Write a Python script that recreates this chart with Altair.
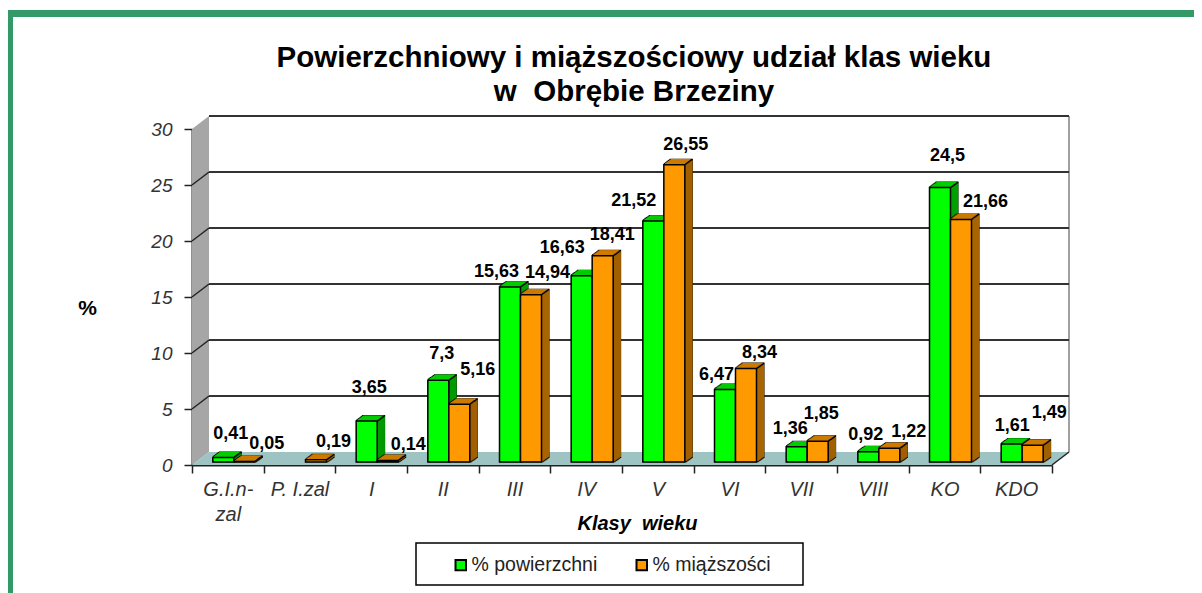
import altair as alt
import pandas as pd

categories = ["G.I.n-|zal", "P. I.zal", "I", "II", "III", "IV", "V", "VI", "VII", "VIII", "KO", "KDO"]
powierzchni = [0.41, None, 3.65, 7.3, 15.63, 16.63, 21.52, 6.47, 1.36, 0.92, 24.5, 1.61]
miazszosci = [0.05, 0.19, 0.14, 5.16, 14.94, 18.41, 26.55, 8.34, 1.85, 1.22, 21.66, 1.49]
series_names = ["% powierzchni", "% miąższości"]
y_ticks = [0, 5, 10, 15, 20, 25, 30]
title_lines = ["Powierzchniowy i miąższościowy udział klas wieku", "w\u00a0 Obrębie Brzeziny"]

# label nudges (pixels), separate from the values
nudge_p = [(3, -26), None, (-2, -36), (-1, -29), (-18, -18), (-24, -31), (-24, -23), (-13, -18), (-11, -21), (-7, -20), (3, -35), (-4, -21)]
nudge_m = [(39, -20), (34, -21), (37, -18), (35, -37), (33, -25), (26, -24), (28, -23), (30, -19), (20, -30), (36, -19), (41, -20), (33, -35)]

W, H = 860, 336
DX, DY = 17, 13
BASE = -3
BAR = 21
DEPTH_X, DEPTH_Y = 7, 5
FONT = "Liberation Sans"

x_scale = alt.Scale(domain=categories, paddingInner=0, paddingOuter=0)
y_scale = alt.Scale(domain=[0, 30], nice=False)
color_scale = alt.Scale(domain=series_names, range=["#00FF00", "#FF9900"])

x_axis = alt.Axis(
    title="Klasy\u00a0 wieku", titleFont=FONT, titleFontSize=20, titleFontWeight="bold", titleFontStyle="italic",
    titleColor="#000000", titleX=445, titleY=48, labelAngle=0, labelFont=FONT, labelFontSize=20,
    labelFontStyle="italic", labelColor="#333333", labelPadding=6, labelLineHeight=25,
    labelExpr="split(datum.label, '|')", labelLimit=200, tickBand="extent", tickColor="#222222", tickSize=8,
    tickWidth=1.5, domainColor="#222222", domainWidth=2, labelOverlap=False)
y_axis = alt.Axis(
    values=y_ticks, title="%", titleAngle=0, titleFont=FONT, titleFontSize=21, titleFontWeight="bold",
    titleColor="#000000", titleX=-105, titleY=189, grid=False, labelFont=FONT, labelFontSize=19,
    labelFontStyle="italic", labelColor="#333333", labelPadding=12, tickColor="#222222", tickSize=8,
    tickWidth=1.5, domainColor="#222222", domainWidth=2)

X = alt.X("cat:N", scale=x_scale, axis=x_axis)
Y = alt.Y("val:Q", scale=y_scale, axis=y_axis, stack=None)
Y0 = alt.Y2(datum=0)


def frame(**kw):
    return alt.Chart(pd.DataFrame({"a": [0]})).mark_rule(color="#339966", strokeWidth=7).encode(**kw)


layers = []

# green page frame
layers.append(frame(x=alt.value(-184), x2=alt.value(1002), y=alt.value(-115.5)))
layers.append(frame(x=alt.value(-182.5), y=alt.value(-119), y2=alt.value(464)))

# legend box
layers.append(alt.Chart(pd.DataFrame({"a": [0]})).mark_rect(fill="#FFFFFF", stroke="#000000", strokeWidth=1.5).encode(
    x=alt.value(224), x2=alt.value(611), y=alt.value(414), y2=alt.value(456)))

# left wall
wall = pd.DataFrame({"x": [0, DX], "y": [0, -DY], "y2": [H, H - DY]})
layers.append(alt.Chart(wall).mark_area(color="#A6A6A6", interpolate="linear").encode(
    x=alt.X("x:Q", scale=None), y=alt.Y("y:Q", scale=None), y2="y2:Q"))
# floor
floor = pd.DataFrame({"x": [0, DX, W, W + DX], "y": [H, H - DY, H - DY, H - DY], "y2": [H, H, H, H - DY]})
layers.append(alt.Chart(floor).mark_area(color="#9DC3C3", interpolate="linear").encode(
    x=alt.X("x:Q", scale=None), y=alt.Y("y:Q", scale=None), y2="y2:Q"))

grid = pd.DataFrame({"val": y_ticks})
# wall right edge
layers.append(alt.Chart(grid.head(1)).mark_rule(color="#A0A0A0", strokeWidth=2).encode(
    x=alt.value(W + DX), y=alt.value(-DY), y2=alt.value(H - DY)))
# grid lines on back wall
layers.append(alt.Chart(grid[grid.val > 0]).mark_rule(color="#333333", strokeWidth=2, yOffset=-DY).encode(
    x=alt.value(DX), x2=alt.value(W + DX), y=Y))
# diagonal lines on left wall
layers.append(alt.Chart(grid[(grid.val > 0) & (grid.val < 30)]).mark_rule(color="#222222", strokeWidth=1.5, y2Offset=-DY).encode(
    x=alt.value(0), x2=alt.value(DX), y=Y, y2="val:Q"))
layers.append(alt.Chart(grid.head(1)).mark_rule(color="#222222", strokeWidth=1.5, y2Offset=-DY).encode(
    x=alt.value(W), x2=alt.value(W + DX), y=Y, y2="val:Q"))

# bars with extruded depth
palette = [
    (series_names[0], powierzchni, -4.5, "#00A000", "#00CC00"),
    (series_names[1], miazszosci, 16.5, "#A86400", "#CC7A00"),
]
for name, values, off, side, top in palette:
    df = pd.DataFrame({"cat": categories, "val": values, "series": name}).dropna(subset=["val"])
    steps = range(1, DEPTH_X + 1)
    for k in steps:
        dy = BASE - k * DEPTH_Y / DEPTH_X
        layers.append(alt.Chart(df).mark_bar(size=BAR, color="#000000", stroke="#000000", strokeWidth=2,
                                             xOffset=off + k, yOffset=dy, y2Offset=dy).encode(x=X, y=Y, y2=Y0))
    for k in steps:
        dy = BASE - k * DEPTH_Y / DEPTH_X
        layers.append(alt.Chart(df).mark_bar(size=1.5, color=side, xOffset=off + BAR / 2 + k, yOffset=dy,
                                             y2Offset=dy).encode(x=X, y=Y, y2=Y0))
        layers.append(alt.Chart(df).mark_tick(size=BAR, thickness=1.5, color=top, opacity=1, xOffset=off + k,
                                              yOffset=dy).encode(x=X, y=Y))
    for k in steps:
        dy = BASE - k * DEPTH_Y / DEPTH_X
        layers.append(alt.Chart(df).mark_tick(size=1.5, thickness=1.5, color="#000000", opacity=1,
                                              xOffset=off + BAR / 2 + k, yOffset=dy).encode(x=X, y=Y))
    layers.append(alt.Chart(df).mark_bar(size=BAR, stroke="#000000", strokeWidth=1.5, xOffset=off, yOffset=BASE,
                                         y2Offset=BASE).encode(
        x=X, y=Y, y2=Y0,
        color=alt.Color("series:N", scale=color_scale, legend=alt.Legend(
            orient="none", legendX=259, legendY=426, direction="horizontal", title=None, symbolType="square",
            symbolSize=110, symbolStrokeColor="#000000", symbolStrokeWidth=2, labelFont=FONT, labelFontSize=19.5,
            labelColor="#222222", columnPadding=34, labelOffset=1))))

# value labels
for values, nudges in ((powierzchni, nudge_p), (miazszosci, nudge_m)):
    for cat, v, n in zip(categories, values, nudges):
        if v is None:
            continue
        one = pd.DataFrame({"cat": [cat], "val": [v], "txt": [str(v).replace(".", ",")]})
        layers.append(alt.Chart(one).mark_text(font=FONT, fontSize=18, fontWeight="bold", color="#000000",
                                               dx=n[0], dy=n[1]).encode(x=X, y=Y, text="txt:N"))

# chart title as two centred lines
for line, ypos in zip(title_lines, (-71, -37)):
    layers.append(alt.Chart(pd.DataFrame({"txt": [line]})).mark_text(
        font=FONT, fontSize=29.5, fontWeight="bold", color="#000000").encode(
        x=alt.value(442), y=alt.value(ypos), text="txt:N"))

chart = alt.layer(*layers).properties(
    width=W, height=H,
    padding={"left": 184, "top": 121, "right": 142, "bottom": 128},
    autosize=alt.AutoSizeParams(type="none"),
    background="#FFFFFF",
).configure_view(stroke=None)

chart.save("out.html", embed_options={"renderer": "svg", "actions": False})
